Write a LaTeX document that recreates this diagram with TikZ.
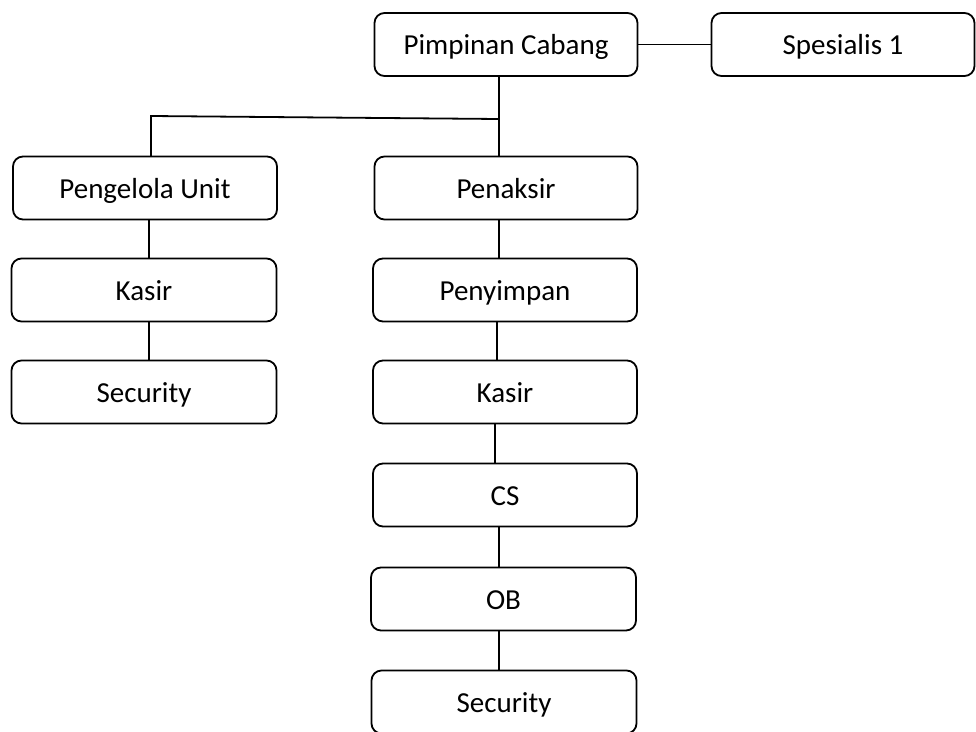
\documentclass[tikz,border=0pt]{standalone}
\usepackage{fontspec}
\setmainfont{Carlito}
\begin{document}
\begin{tikzpicture}[x=1pt,y=-1pt,
  box/.style={draw,line width=1.8pt,rounded corners=10pt,minimum width=263pt,minimum height=63pt,inner sep=0pt,outer sep=0pt,text height=22pt,text depth=2pt,font=\fontsize{29}{34}\selectfont},
  link/.style={line width=1.8pt}]
\useasboundingbox (0,0) rectangle (976,731);
\node[box] (pc) at (506,44.5) {Pimpinan Cabang};
\node[box] (sp) at (843,44.5) {Spesialis 1};
\node[box,minimum width=264pt] (pu) at (145,188) {Pengelola Unit};
\node[box] (pk) at (506,188) {Penaksir};
\node[box,minimum width=265pt] (ka1) at (144,290) {Kasir};
\node[box,minimum width=265pt] (se1) at (144,392) {Security};
\node[box,minimum width=264pt] (py) at (505,290) {Penyimpan};
\node[box,minimum width=264pt] (ka2) at (505,392) {Kasir};
\node[box,minimum width=264pt] (cs) at (505,495) {CS};
\node[box,minimum width=265pt] (ob) at (503.5,599) {OB};
\node[box,minimum width=265pt] (se2) at (504,702) {Security};
\coordinate (j) at (499,119);
\coordinate (k) at (151,116);
\coordinate (xl) at (149,0);
\coordinate (xa) at (499,0);
\coordinate (xb) at (497,0);
\coordinate (xc) at (495,0);
\draw[link] (pc.east) -- (sp.west);
\draw[link] (pc.south -| j) -- (pk.north -| j);
\draw[link] (j) -- (k) -- (k |- pu.north);
\draw[link] (pu.south -| xl) -- (ka1.north -| xl);
\draw[link] (ka1.south -| xl) -- (se1.north -| xl);
\draw[link] (pk.south -| xa) -- (py.north -| xa);
\draw[link] (py.south -| xb) -- (ka2.north -| xb);
\draw[link] (ka2.south -| xc) -- (cs.north -| xc);
\draw[link] (cs.south -| xa) -- (ob.north -| xa);
\draw[link] (ob.south -| xa) -- (se2.north -| xa);
\end{tikzpicture}
\end{document}
